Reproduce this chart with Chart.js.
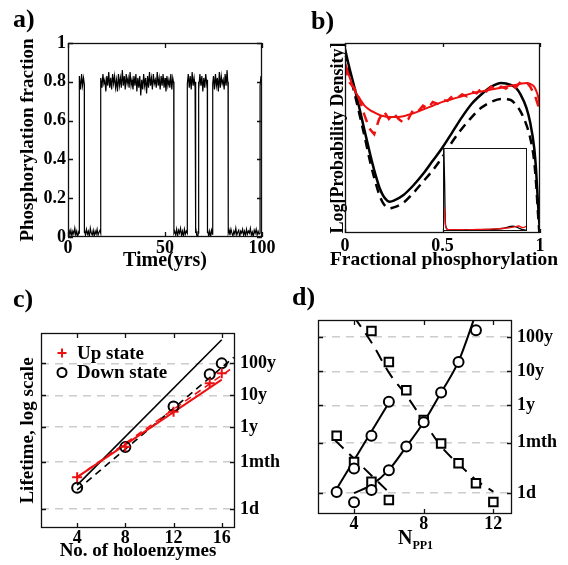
<!DOCTYPE html>
<html><head><meta charset="utf-8">
<script src="https://cdn.jsdelivr.net/npm/chart.js@4/dist/chart.umd.min.js"></script>
<style>
html,body{margin:0;padding:0;background:#fff}
body{position:relative;width:568px;height:565px;overflow:hidden}
canvas{position:absolute;display:block}
.pl{position:absolute;font:bold 26px 'Liberation Serif','Times New Roman',serif;color:#000;line-height:26px}
</style></head><body>
<canvas id="ca" width="284" height="282" style="left:0;top:0"></canvas>
<canvas id="cb" width="284" height="282" style="left:284px;top:0"></canvas>
<canvas id="cbi" width="84" height="83" style="left:443px;top:148px;background:#fff"></canvas>
<canvas id="cc" width="284" height="283" style="left:0;top:282px"></canvas>
<canvas id="cd" width="284" height="283" style="left:284px;top:282px"></canvas>
<div class="pl" style="left:13px;top:6px">a)</div>
<div class="pl" style="left:311px;top:8px">b)</div>
<div class="pl" style="left:13px;top:286px">c)</div>
<div class="pl" style="left:292px;top:284px">d)</div>
<div style="position:absolute;left:294px;top:248px;width:300px;text-align:center;font:bold 19.5px 'Liberation Serif','Times New Roman',serif;line-height:22px;color:#000;white-space:nowrap">Fractional phosphorylation</div>
<div style="position:absolute;left:398px;top:527px;font:bold 20px 'Liberation Serif','Times New Roman',serif;line-height:20px;color:#000">N<sub style="font-size:12px">PP1</sub></div>
<script>
// ---------- Panel a: phosphorylation trace [time (yrs), fraction] ----------
const phosTrace = [
[0,0.02],[0.5,0.04],[1,0.01],[1.5,0.035],[2,0.005],[2.5,0.03],[3,0.015],[3.5,0.045],[4,0.01],[4.5,0.03],[5,0.0],[5.5,0.025],
[5.7,0.02],[5.7,0.80],
[6,0.83],[6.5,0.76],[7,0.84],[7.5,0.78],[8,0.82],
[8.4,0.79],[8.4,0.02],
[8.5,0.035],[9,0.01],[9.5,0.04],[10,0.015],[10.5,0.03],[11,0.0],[11.5,0.045],[12,0.02],[12.5,0.01],[13,0.035],[13.5,0.005],[14,0.03],[14.5,0.015],[15,0.04],[15.5,0.01],[16,0.025],[16.5,0.035],
[16.8,0.02],[16.8,0.78],
[17,0.82],[17.5,0.77],[18,0.84],[18.5,0.79],[19,0.81],[19.5,0.75],[20,0.83],[20.5,0.78],[21,0.85],[21.5,0.77],
[22,0.82],[22.5,0.76],[23,0.84],[23.5,0.79],[24,0.83],[24.5,0.77],[25,0.81],[25.5,0.75],[26,0.84],[26.5,0.78],
[27,0.82],[27.5,0.77],[28,0.86],[28.5,0.78],[29,0.83],[29.5,0.76],[30,0.84],[30.5,0.79],[31,0.82],[31.5,0.77],
[32,0.85],[32.5,0.78],[33,0.81],[33.5,0.76],[34,0.83],[34.5,0.78],[35,0.84],[35.5,0.75],[36,0.82],[36.5,0.77],
[37,0.83],[37.5,0.73],[38,0.81],[38.5,0.76],[39,0.84],[39.5,0.78],[40,0.82],[40.5,0.74],[41,0.83],[41.5,0.77],
[42,0.85],[42.5,0.78],[43,0.82],[43.5,0.76],[44,0.84],[44.5,0.79],[45,0.81],[45.5,0.77],[46,0.85],[46.5,0.78],
[47,0.82],[47.5,0.76],[48,0.83],[48.5,0.78],[49,0.84],[49.5,0.77],[50,0.82],[50.5,0.75],[51,0.83],[51.5,0.78],
[52,0.81],[52.5,0.77],[53,0.84],[53.5,0.76],[54,0.82],[54.5,0.79],
[54.6,0.80],[54.6,0.02],
[55,0.03],[55.5,0.01],[56,0.04],[56.5,0.005],[57,0.035],[57.5,0.02],[58,0.045],[58.5,0.01],[59,0.03],[59.5,0.0],[60,0.04],[60.5,0.015],[61,0.03],
[61.5,0.02],[61.5,0.79],
[62,0.84],[62.5,0.77],[63,0.83],[63.5,0.76],[64,0.85],[64.5,0.78],[65,0.82],[65.5,0.77],
[65.8,0.80],[65.8,0.02],
[66,0.035],[66.5,0.0],[67,0.03],
[67.2,0.02],[67.2,0.80],
[67.5,0.76],[68,0.84],[68.5,0.78],[69,0.83],[69.5,0.75],[70,0.82],[70.5,0.77],[71,0.84],[71.5,0.79],
[71.8,0.81],[71.8,0.02],
[72,0.04],[72.5,0.005],[73,0.03],[73.5,0.0],[74,0.035],[74.5,0.015],
[74.6,0.02],[74.6,0.79],
[75,0.83],[75.5,0.76],[76,0.84],[76.5,0.78],[77,0.82],[77.5,0.75],[78,0.85],[78.5,0.77],[79,0.83],[79.5,0.79],[80,0.81],[80.5,0.76],[81,0.84],[81.5,0.78],[82,0.86],[82.5,0.77],
[82.6,0.80],[82.6,0.02],
[83,0.035],[83.5,0.01],[84,0.04],[84.5,0.02],[85,0.005],[85.5,0.03],[86,0.015],[86.5,0.045],[87,0.01],[87.5,0.025],
[88,0.035],[88.5,0.0],[89,0.03],[89.5,0.02],[90,0.04],[90.5,0.01],[91,0.03],[91.5,0.005],[92,0.04],[92.5,0.015],
[93,0.03],[93.5,0.02],[94,0.045],[94.5,0.01],[95,0.025],[95.5,0.0],[96,0.035],[96.5,0.02],[97,0.04],[97.5,0.01],
[98,0.03],[98.5,0.015],
[99,0.02],[99,0.78],
[99.5,0.83],[100,0.77]
];
const aTimeTicks = [0, 50, 100];
const aFracTicks = [0, 0.2, 0.4, 0.6, 0.8, 1];

// ---------- Panel b: log probability density vs fractional phosphorylation ----------
const bPhos = [0,0.02,0.05,0.08,0.1,0.13,0.15,0.18,0.2,0.23,0.25,0.3,0.35,0.4,0.45,0.5,0.55,0.6,0.65,0.7,0.75,0.8,0.85,0.88,0.9,0.93,0.95,0.97,0.98,0.99,1.0];
const bBlackSolid = [0.97,0.88,0.76,0.63,0.54,0.41,0.33,0.23,0.19,0.165,0.17,0.2,0.25,0.31,0.38,0.45,0.53,0.61,0.68,0.73,0.77,0.79,0.78,0.76,0.73,0.66,0.58,0.45,0.33,0.15,0.0];
const bBlackDash  = [0.95,0.86,0.73,0.6,0.51,0.37,0.29,0.19,0.15,0.13,0.135,0.16,0.21,0.27,0.33,0.4,0.48,0.55,0.61,0.66,0.69,0.705,0.7,0.67,0.64,0.57,0.5,0.38,0.26,0.1,-0.05];
const bRedSolid   = [0.9,0.83,0.75,0.7,0.67,0.645,0.635,0.62,0.615,0.61,0.61,0.615,0.63,0.65,0.67,0.69,0.705,0.72,0.735,0.745,0.755,0.765,0.775,0.78,0.785,0.79,0.785,0.77,0.75,0.72,0.66];
const bNoisyX = [0,0.025,0.05,0.075,0.1,0.125,0.15,0.175,0.2,0.225,0.25,0.275,0.3,0.325,0.35,0.375,0.4,0.425,0.45,0.475,0.5,0.525,0.55,0.575,0.6,0.625,0.65,0.675,0.7,0.725,0.75,0.775,0.8,0.825,0.85,0.875,0.9,0.925,0.95,0.975,1.0];
const bRedNoisy = [0.88,0.79,0.76,0.7,0.62,0.55,0.52,0.6,0.64,0.6,0.63,0.6,0.58,0.6,0.65,0.64,0.67,0.655,0.69,0.68,0.7,0.695,0.72,0.71,0.73,0.72,0.745,0.735,0.76,0.745,0.77,0.75,0.77,0.76,0.78,0.765,0.795,0.8,0.77,0.72,0.64];
const bTicks = [0, 0.5, 1];
// inset (linear probability density)
const insetX     = [0,0.01,0.02,0.04,0.1,0.2,0.3,0.4,0.5,0.6,0.7,0.75,0.8,0.85,0.9,0.95,1.0];
const insetBlack = [1.0,0.55,0.08,0.02,0.015,0.015,0.015,0.015,0.02,0.02,0.03,0.04,0.055,0.055,0.035,0.015,0.01];
const insetRed   = [0.29,0.22,0.06,0.02,0.015,0.015,0.015,0.02,0.02,0.025,0.03,0.035,0.04,0.05,0.06,0.04,0.06];

// ---------- Panel c: lifetime (log10 days) vs number of holoenzymes ----------
const holoN    = [4, 8, 12, 15, 16];
const upLife   = [1.0, 1.95, 3.05, 3.94, 4.25];
const downLife = [0.67, 1.94, 3.21, 4.22, 4.56];
const cBlackSolidFit = [[4,0.75],[16,5.3]];
const cBlackDashFit  = [[4,0.6],[17,4.75]];
const cRedSolidFit   = [[4,1.0],[16,4.05]];
const cRedDashFit    = [[4,1.0],[17,4.45]];
const holoTicks = [4, 8, 12, 16];
const lifeTickVals   = [0, 1.477, 2.562, 3.562, 4.562];
const lifeTickLabels = ['1d', '1mth', '1y', '10y', '100y'];

// ---------- Panel d: lifetime vs N_PP1 ----------
const dNA     = [3, 4, 5, 6];
const dCircA  = [0.03, 0.72, 1.68, 2.67];
const dSqA    = [1.68, 0.91, 0.33, -0.2];
const dNB     = [4, 5, 6, 7, 8, 9, 10, 11];
const dCircB  = [-0.27, 0.09, 0.67, 1.36, 2.07, 2.94, 3.83, 4.76];
const dNB2    = [5, 6, 7, 8, 9, 10, 11, 12];
const dSqB    = [4.74, 3.83, 3.01, 2.14, 1.45, 0.87, 0.29, -0.26];
const dSolidA = [[2.9,0.04],[6.07,2.7]];
const dSolidB = [[4,0.0],[5,0.24],[6,0.68],[7,1.36],[8,2.07],[9,2.94],[10,3.85],[11,5.25]];
const dDashA  = [[2.9,1.55],[6.07,-0.01]];
const dDashB  = [[4.0,5.15],[5.02,4.39],[6.07,3.47],[7.03,2.84],[7.98,2.12],[9.04,1.34],[10.09,0.81],[11.14,0.33],[12,0.04]];
const nppTicks = [4, 8, 12];

// ---------- shared setup ----------
const FONT = "'Liberation Serif','Times New Roman',serif";
const RED = '#ee1111';
Chart.defaults.font.family = FONT;
Chart.defaults.font.weight = 'bold';
Chart.defaults.font.size = 18;
Chart.defaults.color = '#000';
Chart.defaults.animation = false;
Chart.defaults.responsive = false;
Chart.defaults.plugins.legend.display = false;
Chart.defaults.plugins.tooltip.enabled = false;
Chart.defaults.elements.point.radius = 0;

const pts = arr => arr.map(p => ({x: p[0], y: p[1]}));
const zip = (xs, ys) => xs.map((x, i) => ({x: x, y: ys[i]}));
const fixW = w => s => { s.width = w; };
const fixH = h => s => { s.height = h; };
const setTicks = vals => s => { s.ticks = vals.map(v => ({value: v})); };
const gridOff = {display: false, drawTicks: false, tickLength: 0};
const off = {display: false};

const framePlugin = {
  id: 'frame',
  afterDatasetsDraw(chart, args, o) {
    const {ctx, chartArea: a} = chart;
    ctx.save();
    ctx.strokeStyle = '#111';
    ctx.lineWidth = o.width || 1.3;
    ctx.setLineDash([]);
    const tl = o.tick || 0;
    if (tl) {
      ctx.beginPath();
      const xs = chart.scales.x;
      if (xs && o.xTicks !== false) xs.ticks.forEach(t => {
        const p = Math.round(xs.getPixelForValue(t.value)) + 0.5;
        ctx.moveTo(p, a.bottom); ctx.lineTo(p, a.bottom - tl);
        ctx.moveTo(p, a.top); ctx.lineTo(p, a.top + tl);
      });
      const ys = chart.scales[o.yId || 'y'];
      if (ys && o.yTicks !== false) ys.ticks.forEach(t => {
        const p = Math.round(ys.getPixelForValue(t.value)) + 0.5;
        ctx.moveTo(a.left, p); ctx.lineTo(a.left + tl, p);
        ctx.moveTo(a.right, p); ctx.lineTo(a.right - tl, p);
      });
      ctx.stroke();
    }
    ctx.strokeRect(Math.round(a.left) + 0.5, Math.round(a.top) + 0.5,
                   Math.round(a.right - a.left) - 1, Math.round(a.bottom - a.top) - 1);
    ctx.restore();
  }
};

const keyPlugin = {
  id: 'key',
  afterDraw(chart, args, o) {
    if (!o.show) return;
    const {ctx, chartArea: a} = chart;
    ctx.save();
    ctx.font = 'bold 19px ' + FONT;
    ctx.textBaseline = 'middle';
    chart.data.datasets.filter(d => d.inKey).forEach((d, i) => {
      const x = a.left + o.x0, y = a.top + o.y0 + i * o.gap;
      ctx.strokeStyle = d.pointBorderColor;
      ctx.fillStyle = 'rgba(0,0,0,0)';
      ctx.lineWidth = 2;
      Chart.helpers.drawPoint(ctx, {pointStyle: d.pointStyle, radius: o.r, borderWidth: 2, rotation: 0}, x, y);
      ctx.fillStyle = '#000';
      ctx.fillText(d.label, x + o.tx, y + 1);
    });
    ctx.restore();
  }
};

// ---------- Panel a ----------
new Chart(document.getElementById('ca'), {
  type: 'line',
  data: {datasets: [{data: pts(phosTrace), borderColor: '#000', borderWidth: 1.2, tension: 0}]},
  options: {
    layout: {padding: {top: 43, right: 22, left: 0, bottom: 0}},
    scales: {
      x: {type: 'linear', min: 0, max: 100, afterBuildTicks: setTicks(aTimeTicks), afterFit: fixH(45),
          grid: gridOff, border: off,
          ticks: {padding: 1, maxRotation: 0, autoSkip: false, callback: v => String(v)},
          title: {display: true, text: 'Time(yrs)', font: {size: 20}, padding: {top: 0, bottom: 9}}},
      y: {type: 'linear', min: 0, max: 1, afterBuildTicks: setTicks(aFracTicks), afterFit: fixW(68),
          grid: gridOff, border: off,
          ticks: {padding: 2, autoSkip: false, callback: v => String(v)},
          title: {display: true, text: 'Phosphorylation fraction', font: {size: 19}, padding: {top: 17, bottom: 0}}}
    },
    plugins: {frame: {tick: 5}}
  },
  plugins: [framePlugin]
});

// ---------- Panel b ----------
new Chart(document.getElementById('cb'), {
  type: 'line',
  data: {datasets: [
    {data: zip(bNoisyX, bRedNoisy), borderColor: RED, borderWidth: 2.5, borderDash: [10, 7], tension: 0},
    {data: zip(bPhos, bRedSolid), borderColor: RED, borderWidth: 2, cubicInterpolationMode: 'monotone'},
    {data: zip(bPhos, bBlackSolid), borderColor: '#000', borderWidth: 2.5, cubicInterpolationMode: 'monotone'},
    {data: zip(bPhos, bBlackDash), borderColor: '#000', borderWidth: 2.5, borderDash: [9, 6], cubicInterpolationMode: 'monotone'}
  ]},
  options: {
    layout: {padding: {top: 43, right: 28, left: 0, bottom: 0}},
    scales: {
      x: {type: 'linear', min: 0, max: 1, afterBuildTicks: setTicks(bTicks), afterFit: fixH(49),
          grid: gridOff, border: off,
          ticks: {padding: 3, maxRotation: 0, autoSkip: false, callback: v => String(v)}},
      y: {type: 'linear', min: 0, max: 1, afterFit: fixW(61), grid: gridOff, border: off,
          ticks: {display: false},
          title: {display: true, text: 'Log[Probability Density]', font: {size: 18}, padding: {top: 44, bottom: 0}}}
    },
    plugins: {frame: {tick: 4, yTicks: false}}
  },
  plugins: [framePlugin]
});

// inset of panel b
new Chart(document.getElementById('cbi'), {
  type: 'line',
  data: {datasets: [
    {data: zip(insetX, insetRed), borderColor: RED, borderWidth: 1.3, tension: 0.3},
    {data: zip(insetX, insetBlack), borderColor: '#000', borderWidth: 1.3, tension: 0.3}
  ]},
  options: {
    layout: {padding: 0},
    scales: {x: {type: 'linear', display: false, min: -0.01, max: 1}, y: {display: false, min: 0, max: 1}},
    plugins: {frame: {tick: 0, width: 1}}
  },
  plugins: [framePlugin]
});

// ---------- Panel c ----------
const lifeAxis = (w, range) => ({
  type: 'linear', position: 'right', min: range[0], max: range[1],
  afterBuildTicks: setTicks(lifeTickVals), afterFit: fixW(w),
  grid: {color: '#cccccc', lineWidth: 1.5, drawTicks: false, tickLength: 0},
  border: {display: false, dash: [8, 6]},
  ticks: {padding: 5, autoSkip: false, callback: (v, i) => lifeTickLabels[i]}
});

new Chart(document.getElementById('cc'), {
  type: 'line',
  data: {datasets: [
    {label: 'Up state', inKey: true, data: zip(holoN, upLife), showLine: false, pointStyle: 'cross',
     pointRadius: 5, pointBorderColor: RED, pointBorderWidth: 2, borderColor: RED},
    {label: 'Down state', inKey: true, data: zip(holoN, downLife), showLine: false, pointStyle: 'circle',
     pointRadius: 5, pointBorderColor: '#000', pointBackgroundColor: 'rgba(0,0,0,0)', pointBorderWidth: 2, borderColor: '#000'},
    {data: pts(cRedSolidFit), borderColor: RED, borderWidth: 2},
    {data: pts(cRedDashFit), borderColor: RED, borderWidth: 1.6, borderDash: [7, 5]},
    {data: pts(cBlackDashFit), borderColor: '#000', borderWidth: 1.6, borderDash: [7, 5]},
    {data: pts(cBlackSolidFit), borderColor: '#000', borderWidth: 1.6}
  ]},
  options: {
    layout: {padding: {top: 51, right: 0, left: 0, bottom: 0}},
    scales: {
      x: {type: 'linear', min: 1, max: 17.1, afterBuildTicks: setTicks(holoTicks), afterFit: fixH(37),
          grid: gridOff, border: off,
          ticks: {padding: 0, maxRotation: 0, autoSkip: false, callback: v => String(v)},
          title: {display: true, text: 'No. of holoenzymes', font: {size: 19}, padding: {top: 0, bottom: 3}}},
      y: lifeAxis(49, [-0.59, 5.51]),
      yl: {type: 'linear', position: 'left', min: -0.59, max: 5.51, afterFit: fixW(41),
           grid: gridOff, border: off, ticks: {display: false},
           title: {display: true, text: 'Lifetime, log scale', font: {size: 19}, padding: {top: 17, bottom: 0}}}
    },
    plugins: {frame: {tick: 5}, key: {show: true, x0: 21, y0: 20, gap: 19.5, r: 4.5, tx: 15}}
  },
  plugins: [framePlugin, keyPlugin]
});

// ---------- Panel d ----------
const mark = (xs, ys, style, r) => ({data: zip(xs, ys), showLine: false, pointStyle: style, pointRadius: r,
  pointBorderColor: '#000', pointBackgroundColor: '#fff', pointBorderWidth: 2, borderColor: '#000'});
new Chart(document.getElementById('cd'), {
  type: 'line',
  data: {datasets: [
    mark(dNA, dCircA, 'circle', 5),
    mark(dNB, dCircB, 'circle', 5),
    mark(dNA, dSqA, 'rect', 6),
    mark(dNB2, dSqB, 'rect', 6),
    {data: pts(dSolidA), borderColor: '#000', borderWidth: 2},
    {data: pts(dSolidB), borderColor: '#000', borderWidth: 2, cubicInterpolationMode: 'monotone'},
    {data: pts(dDashA), borderColor: '#000', borderWidth: 2, borderDash: [12, 8]},
    {data: pts(dDashB), borderColor: '#000', borderWidth: 2, borderDash: [12, 8], cubicInterpolationMode: 'monotone'}
  ]},
  options: {
    layout: {padding: {top: 38, right: 0, left: 34, bottom: 0}},
    scales: {
      x: {type: 'linear', min: 1.93, max: 13.07, afterBuildTicks: setTicks(nppTicks), afterFit: fixH(51),
          grid: gridOff, border: off,
          ticks: {padding: 0, maxRotation: 0, autoSkip: false, callback: v => String(v)}},
      y: lifeAxis(56, [-0.61, 5.06])
    },
    plugins: {frame: {tick: 5}}
  },
  plugins: [framePlugin]
});
</script>
</body></html>
